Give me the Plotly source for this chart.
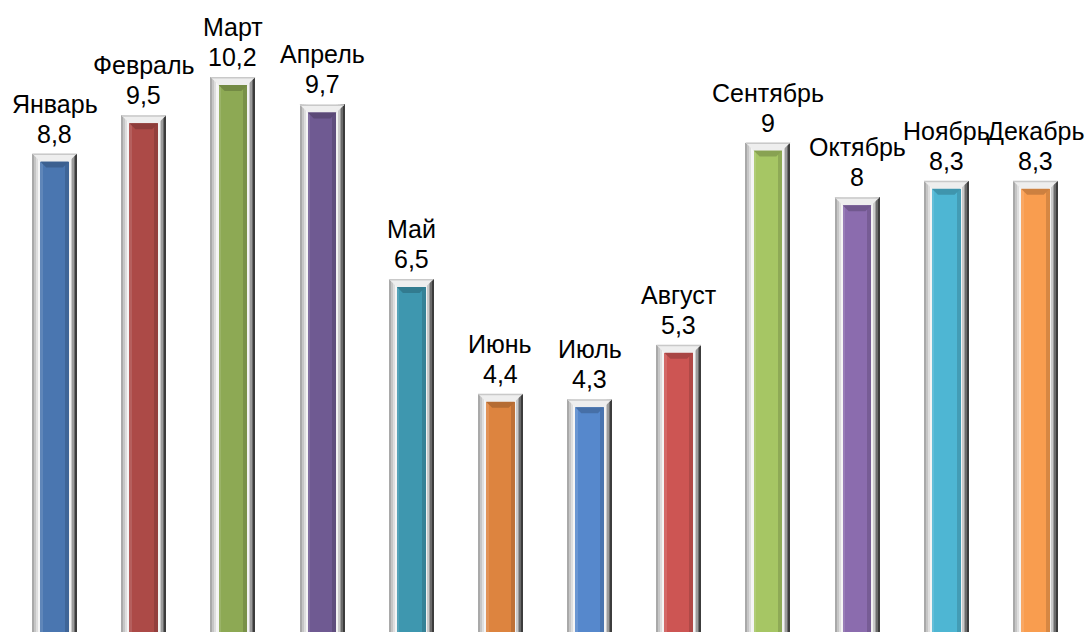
import plotly.graph_objects as go

# Monthly values
months = ["Январь", "Февраль", "Март", "Апрель", "Май", "Июнь",
          "Июль", "Август", "Сентябрь", "Октябрь", "Ноябрь", "Декабрь"]
values = [8.8, 9.5, 10.2, 9.7, 6.5, 4.4, 4.3, 5.3, 9.0, 8.0, 8.3, 8.3]
face_colors = ["#4A76B0", "#AC4A47", "#8DA954", "#6F5A92", "#3E97AF", "#DD843F",
               "#5688CC", "#CD5553", "#A6C664", "#8B6CAE", "#4EB6D3", "#F99D4F"]

# Layout geometry
W, H = 1086, 632
ML, MR, MT, MB = 10, 6, 0, 0
X_RANGE = [-0.5, len(months) - 0.5]
Y_RANGE = [0.037, 11.612]
XU = (W - ML - MR) / (X_RANGE[1] - X_RANGE[0])   # pixels per category
YU = (H - MT - MB) / (Y_RANGE[1] - Y_RANGE[0])   # pixels per value unit


def px_x(p):
    return p / XU


def px_y(p):
    return p / YU


def shade(hex_color, k):
    h = hex_color.lstrip("#")
    r, g, b = (int(h[i:i + 2], 16) for i in (0, 2, 4))
    if k <= 1:
        r, g, b = (int(c * k) for c in (r, g, b))
    else:
        t = k - 1
        r, g, b = (int(c + (255 - c) * t) for c in (r, g, b))
    return "#{:02x}{:02x}{:02x}".format(r, g, b)


xs = list(range(len(months)))
OUT = 22.5     # outer half width, px
INN = 14.3     # inner face half width, px
TOP = 8.0      # depth of the top bevel, px
ITOP = 6.0     # depth of the inner face bevel, px

fig = go.Figure()


def strip(x0, x1, heights, color):
    fig.add_trace(go.Bar(
        x=xs, y=heights, base=0,
        width=px_x(x1 - x0), offset=px_x(x0),
        marker=dict(color=color, line=dict(width=0)),
        hoverinfo="skip", showlegend=False))


# Bevelled frame around each column
frame = [
    (-OUT, -20.5, "#a9a9a9"),
    (-20.5, -18.5, "#c6c6c6"),
    (-18.5, -16.5, "#dedede"),
    (-16.5, -INN, "#f5f5f5"),
    (INN, 16.5, "#f2f2f2"),
    (16.5, 18.0, "#cacaca"),
    (18.0, 19.5, "#9c9c9c"),
    (19.5, 21.0, "#6b6b6b"),
    (21.0, OUT, "#3c3c3c"),
]
for x0, x1, c in frame:
    strip(x0, x1, values, c)

# Coloured front face
inner_h = [v - px_y(TOP) for v in values]
fig.add_trace(go.Bar(
    x=xs, y=inner_h, base=0, width=px_x(2 * INN), offset=px_x(-INN),
    marker=dict(color=face_colors, line=dict(width=0)),
    hoverinfo="skip", showlegend=False))
fig.add_trace(go.Bar(
    x=xs, y=inner_h, base=0, width=px_x(2.5), offset=px_x(-INN),
    marker=dict(color=[shade(c, 1.12) for c in face_colors], line=dict(width=0)),
    hoverinfo="skip", showlegend=False))
fig.add_trace(go.Bar(
    x=xs, y=inner_h, base=0, width=px_x(4.0), offset=px_x(INN - 4.0),
    marker=dict(color=[shade(c, 0.86) for c in face_colors], line=dict(width=0)),
    hoverinfo="skip", showlegend=False))

shapes = []
for i, v in enumerate(values):
    # light top face of the frame
    yt, yb = v, v - px_y(TOP)
    shapes.append(dict(
        type="path", xref="x", yref="y", layer="above",
        path=(f"M {i - px_x(OUT)} {yt} L {i + px_x(OUT)} {yt} "
              f"L {i + px_x(INN)} {yb} L {i - px_x(INN)} {yb} Z"),
        fillcolor="#eeeeee", line=dict(width=0)))
    shapes.append(dict(
        type="path", xref="x", yref="y", layer="above",
        path=(f"M {i - px_x(OUT)} {yt} L {i + px_x(OUT)} {yt} "
              f"L {i + px_x(OUT - 1.5)} {yt - px_y(1.5)} L {i - px_x(OUT - 1.5)} {yt - px_y(1.5)} Z"),
        fillcolor="#c9c9c9", line=dict(width=0)))
    # darker bevel on the top of the coloured face
    y2 = yb - px_y(ITOP)
    shapes.append(dict(
        type="path", xref="x", yref="y", layer="above",
        path=(f"M {i - px_x(INN)} {yb} L {i + px_x(INN)} {yb} "
              f"L {i + px_x(INN - ITOP)} {y2} L {i - px_x(INN - ITOP)} {y2} Z"),
        fillcolor=shade(face_colors[i], 0.82), line=dict(width=0)))

# Two-line labels: month name above the value
FONT = dict(family="Liberation Sans, Arial, sans-serif", size=25, color="#000000")
annotations = []
for i, (m, v) in enumerate(zip(months, values)):
    label = f"{v:g}".replace(".", ",")
    annotations.append(dict(
        x=i, y=v, xref="x", yref="y", yanchor="middle", xanchor="center",
        yshift=20, showarrow=False, text=label, font=FONT))
    annotations.append(dict(
        x=i, y=v, xref="x", yref="y", yanchor="middle", xanchor="center",
        yshift=50, showarrow=False, text=m, font=FONT))

fig.update_layout(
    width=W, height=H,
    margin=dict(l=ML, r=MR, t=MT, b=MB),
    barmode="overlay", bargap=0,
    paper_bgcolor="white", plot_bgcolor="white",
    xaxis=dict(range=X_RANGE, visible=False, fixedrange=True),
    yaxis=dict(range=Y_RANGE, visible=False, fixedrange=True),
    shapes=shapes, annotations=annotations, showlegend=False)

fig.write_html("out.html", config={"displayModeBar": False})
